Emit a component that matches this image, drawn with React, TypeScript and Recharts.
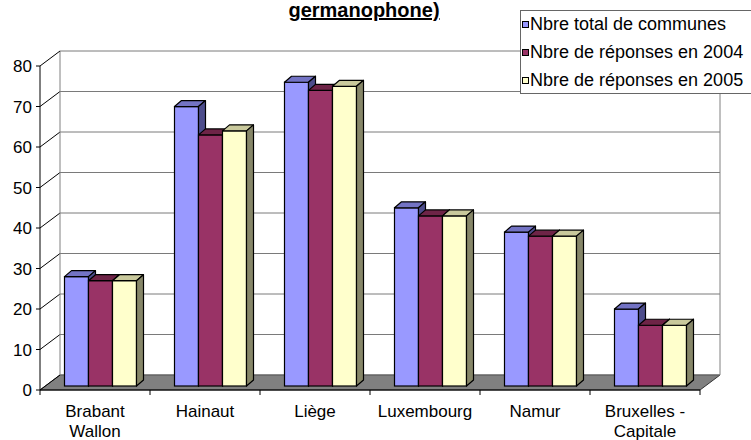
import React from "react";
import { BarChart, Bar, XAxis, YAxis, CartesianGrid, Legend } from "recharts";

const categories = ["Brabant\nWallon", "Hainaut", "Liège", "Luxembourg", "Namur", "Bruxelles -\nCapitale"];
const totalCommunes = [27, 69, 75, 44, 38, 19];
const reponses2004 = [26, 62, 73, 42, 37, 15];
const reponses2005 = [26, 63, 74, 42, 37, 15];
const seriesNames = ["Nbre total de communes", "Nbre de réponses en 2004", "Nbre de réponses en 2005"];
const yTicks = [0, 10, 20, 30, 40, 50, 60, 70, 80];

const data = categories.map((name, i) => ({
  name,
  total: totalCommunes[i],
  r2004: reponses2004[i],
  r2005: reponses2005[i],
}));

const FONT = '"Liberation Sans", Arial, sans-serif';
const PLOT_TOP = 66;
const PLOT_BOTTOM = 390;
// décalage de la paroi du fond (pseudo 3D)
const WALL_DX = 20;
const WALL_DY = -15;
// profondeur des barres et décalage vers le fond
const BAR_DX = 7;
const BAR_DY = -6;
const BAR_SHIFT_X = 5.5;
const BAR_SHIFT_Y = -4;

function make3dBar(topFill: string, sideFill: string) {
  return (props: any) => {
    const { x, y, width, height, fill } = props;
    if (width == null || height == null) return null;
    const fx = x + BAR_SHIFT_X;
    const fy = y + BAR_SHIFT_Y;
    const w = width;
    const h = height;
    const top = `${fx},${fy} ${fx + BAR_DX},${fy + BAR_DY} ${fx + w + BAR_DX},${fy + BAR_DY} ${fx + w},${fy}`;
    const side = `${fx + w},${fy} ${fx + w + BAR_DX},${fy + BAR_DY} ${fx + w + BAR_DX},${fy + h + BAR_DY} ${fx + w},${fy + h}`;
    return (
      <g>
        <rect x={fx} y={fy} width={w} height={h} fill={fill} stroke="#000" strokeWidth={1.2} />
        <polygon points={top} fill={topFill} stroke="#000" strokeWidth={1.2} strokeLinejoin="round" />
        <polygon points={side} fill={sideFill} stroke="#000" strokeWidth={1.2} strokeLinejoin="round" />
      </g>
    );
  };
}

// lignes de la grille dessinées sur la paroi du fond, avec plancher et parois
function WallLine(props: any) {
  const { x1, y1, x2 } = props;
  const bx1 = x1 + WALL_DX;
  const bx2 = x2 + WALL_DX;
  const by = y1 + WALL_DY;
  const isBottom = Math.abs(y1 - PLOT_BOTTOM) < 1;
  const isTop = Math.abs(y1 - PLOT_TOP) < 1;
  return (
    <g>
      {isBottom && (
        <polygon
          points={`${x1},${y1} ${x2},${y1} ${bx2},${by} ${bx1},${by}`}
          fill="#808080"
          stroke="#333"
          strokeWidth={1}
        />
      )}
      {isTop && (
        <g>
          <line x1={bx1} y1={by} x2={bx1} y2={PLOT_BOTTOM + WALL_DY} stroke="#808080" strokeWidth={1} />
          <line x1={bx2} y1={by} x2={bx2} y2={PLOT_BOTTOM + WALL_DY} stroke="#808080" strokeWidth={1} />
        </g>
      )}
      <line x1={bx1} y1={by} x2={bx2} y2={by} stroke="#7a7a7a" strokeWidth={1} />
      <line x1={x1} y1={y1} x2={bx1} y2={by} stroke="#000" strokeWidth={1} />
    </g>
  );
}

function YTick(props: any) {
  const { x, y, payload } = props;
  return (
    <text x={x} y={y} dy="0.36em" textAnchor="end" fontSize={17} fontFamily={FONT} fill="#000">
      {payload.value}
    </text>
  );
}

function XTick(props: any) {
  const { x, y, payload } = props;
  const half = payload.offset ? payload.offset : 55;
  const lines = String(payload.value).split("\n");
  const last = payload.index === categories.length - 1;
  return (
    <g>
      <line x1={x - half} y1={y - 5} x2={x - half} y2={y} stroke="#000" strokeWidth={1} />
      {last && <line x1={x + half} y1={y - 5} x2={x + half} y2={y} stroke="#000" strokeWidth={1} />}
      <text x={x} y={y + 22} textAnchor="middle" fontSize={17} fontFamily={FONT} fill="#000">
        {lines.map((l, i) => (
          <tspan key={i} x={x} dy={i === 0 ? 0 : 20}>
            {l}
          </tspan>
        ))}
      </text>
    </g>
  );
}

function LegendBox(props: any) {
  const items = [...(props.payload || [])].sort(
    (a: any, b: any) => seriesNames.indexOf(a.value) - seriesNames.indexOf(b.value)
  );
  return (
    <div
      style={{
        border: "1px solid #666",
        background: "#fff",
        width: 260,
        height: 82,
        fontFamily: FONT,
        fontSize: 18,
        color: "#000",
      }}
    >
      {items.map((item: any, i: number) => (
        <div key={i} style={{ height: 28, lineHeight: "28px", whiteSpace: "nowrap", marginTop: i === 0 ? -1 : 0 }}>
          <span
            style={{
              display: "inline-block",
              width: 5,
              height: 5,
              border: "1px solid #000",
              background: item.color,
              marginLeft: 1,
              marginRight: 1,
              verticalAlign: "middle",
              position: "relative",
              top: -1,
            }}
          />
          {item.value}
        </div>
      ))}
    </div>
  );
}

export default function App() {
  return (
    <div
      style={{
        position: "absolute",
        left: 0,
        top: 0,
        width: 751,
        height: 440,
        overflow: "hidden",
        background: "#fff",
        fontFamily: FONT,
      }}
    >
      <div
        style={{
          position: "absolute",
          left: 214,
          width: 300,
          top: 0,
          textAlign: "center",
          fontSize: 20,
          lineHeight: "20px",
          fontWeight: "bold",
          textDecoration: "underline",
          zIndex: 2,
        }}
      >
        germanophone)
      </div>
      <BarChart
        width={751}
        height={440}
        data={data}
        margin={{ top: PLOT_TOP, right: 51, bottom: 0, left: 0 }}
        barGap={0}
      >
        <CartesianGrid horizontal={(p: any) => <WallLine {...p} />} vertical={false} />
        <XAxis
          dataKey="name"
          height={50}
          interval={0}
          axisLine={{ stroke: "#000", strokeWidth: 1 }}
          tickLine={false}
          tickSize={5}
          tickMargin={0}
          tick={<XTick />}
        />
        <YAxis
          width={40}
          domain={[0, 80]}
          ticks={yTicks}
          interval={0}
          axisLine={{ stroke: "#000", strokeWidth: 1 }}
          tickLine={{ stroke: "#000" }}
          tickSize={4}
          tickMargin={4}
          tick={<YTick />}
        />
        <Legend
          layout="vertical"
          align="center"
          verticalAlign="middle"
          content={<LegendBox />}
          wrapperStyle={{ position: "absolute", left: 520, top: 10, width: 262 }}
        />
        <Bar
          dataKey="total"
          name={seriesNames[0]}
          fill="#9999FF"
          barSize={24}
          shape={make3dBar("#7373C4", "#4D4D8C")}
          isAnimationActive={false}
        />
        <Bar
          dataKey="r2004"
          name={seriesNames[1]}
          fill="#993366"
          barSize={24}
          shape={make3dBar("#6E2447", "#5C1E3D")}
          isAnimationActive={false}
        />
        <Bar
          dataKey="r2005"
          name={seriesNames[2]}
          fill="#FFFFCC"
          barSize={24}
          shape={make3dBar("#C9C99C", "#868668")}
          isAnimationActive={false}
        />
      </BarChart>
    </div>
  );
}
